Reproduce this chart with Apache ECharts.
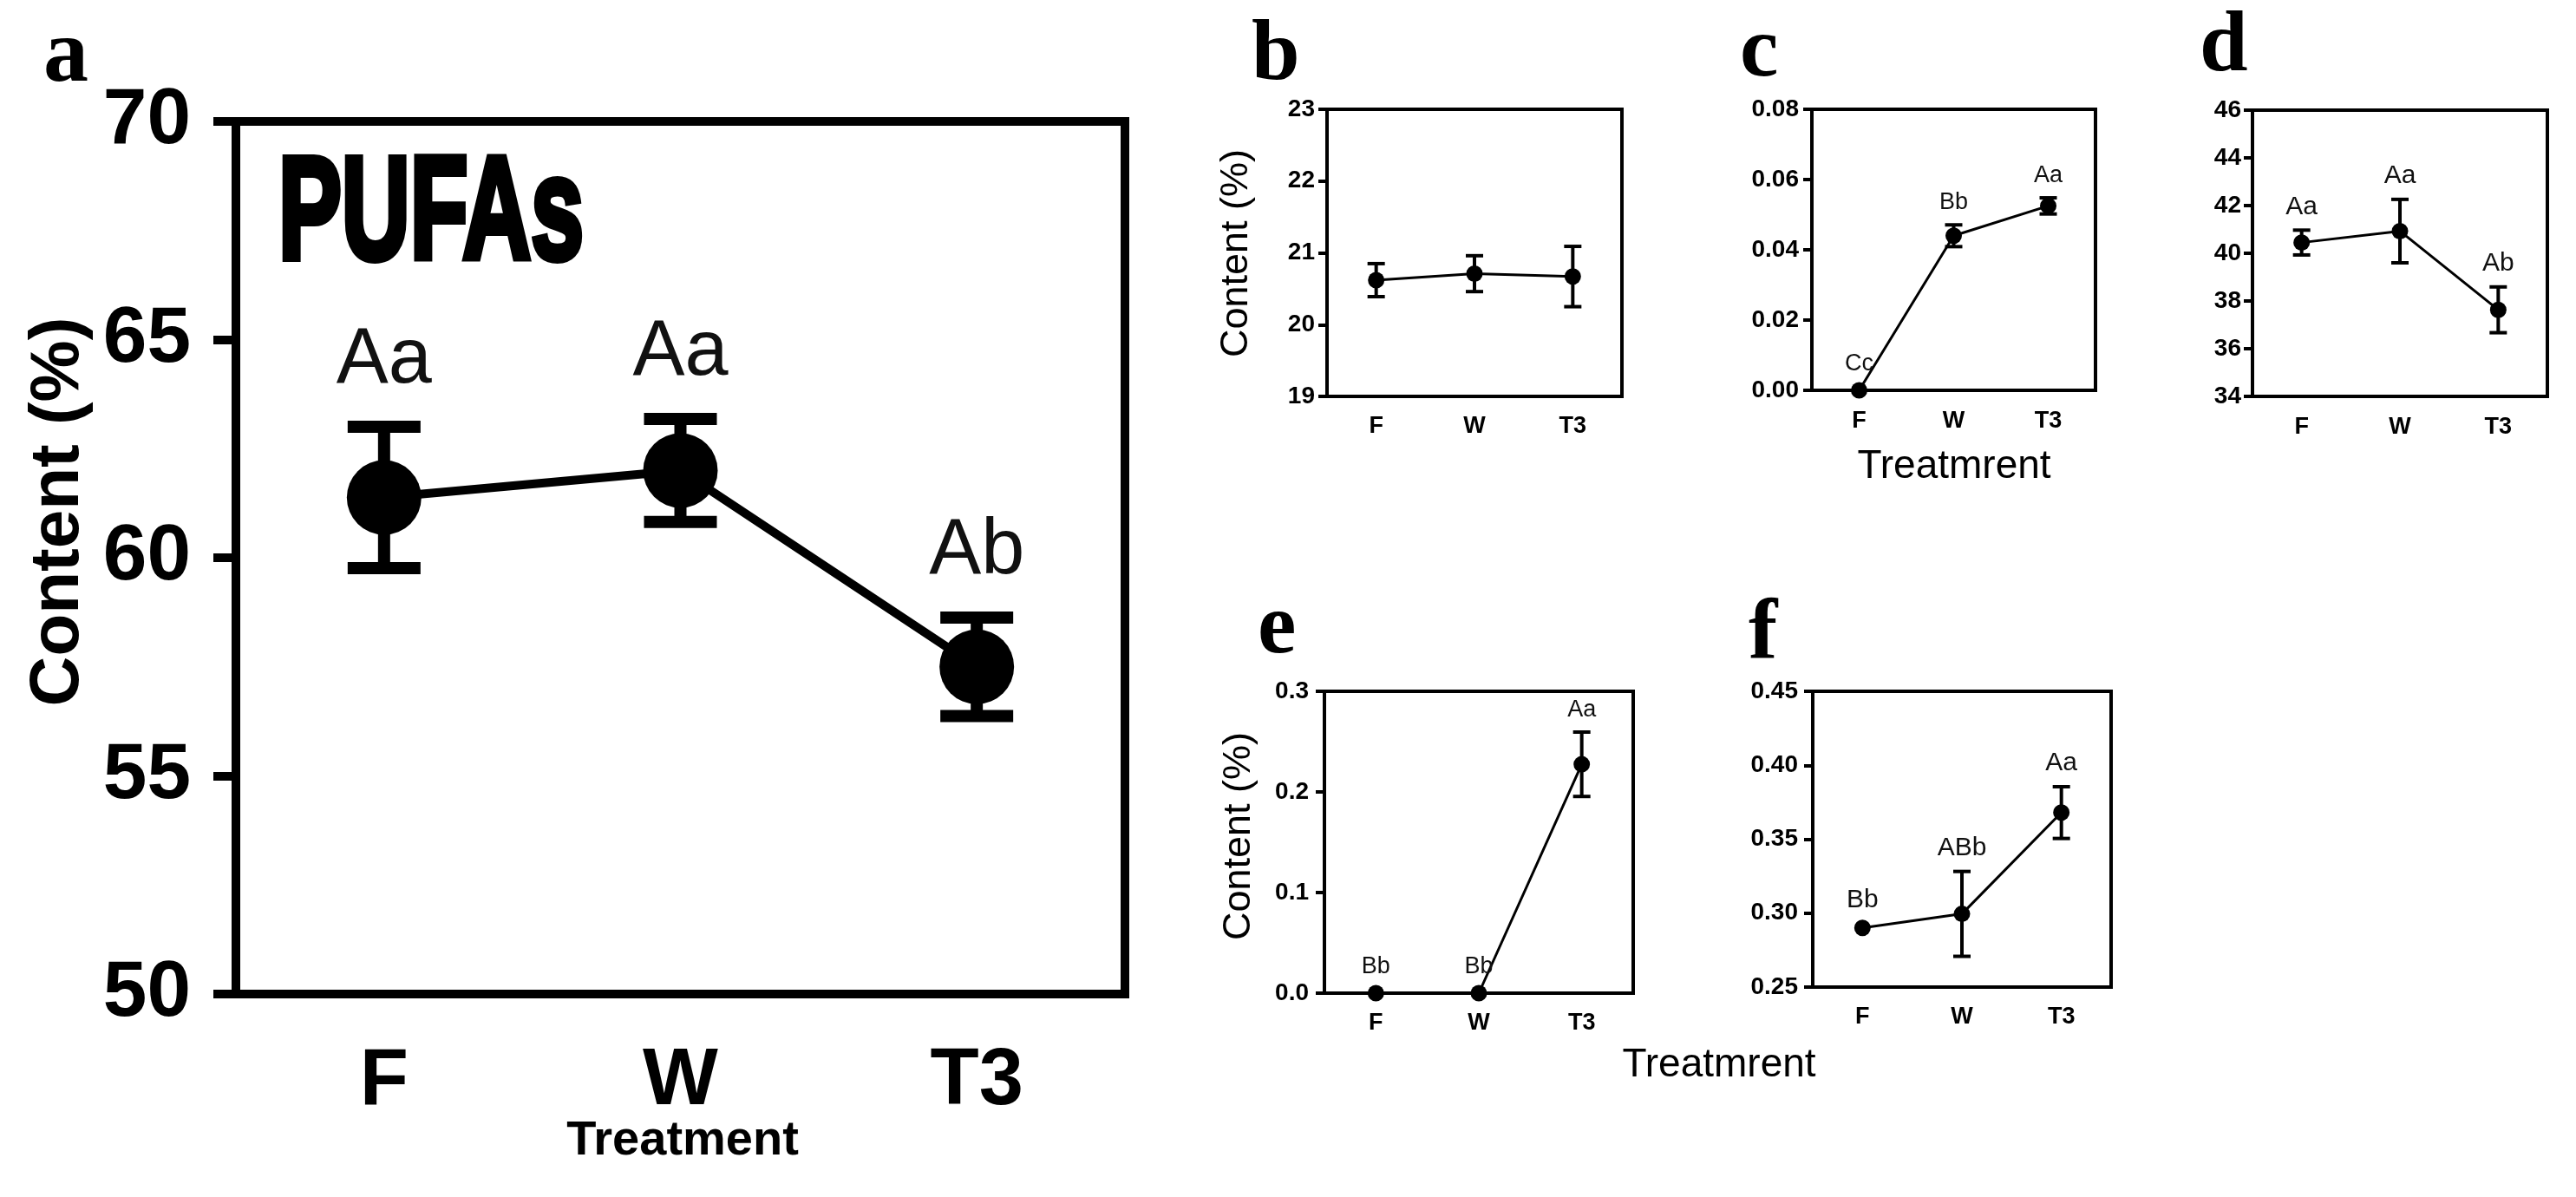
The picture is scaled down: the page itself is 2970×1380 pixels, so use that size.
<!DOCTYPE html>
<html><head><meta charset="utf-8">
<script src="https://cdn.jsdelivr.net/npm/echarts@6/dist/echarts.min.js"></script>
<style>html,body{margin:0;padding:0;background:#fff}#c{width:2970px;height:1380px}</style>
</head><body><div id="c"></div>
<script>
// ---------- data ----------
const categories = ['F', 'W', 'T3'];

// a: PUFAs
const aMean = [61.38, 62.00, 57.50];
const aErr = [1.62, 1.18, 1.13];
const aLetters = ['Aa', 'Aa', 'Ab'];
const aTicks = ['50', '55', '60', '65', '70'];

// b
const bMean = [20.62, 20.71, 20.67];
const bErr = [0.23, 0.25, 0.42];
const bLetters = ['', '', ''];
const bTicks = ['19', '20', '21', '22', '23'];

// c
const cMean = [0.0, 0.0440, 0.0525];
const cErr = [0.0, 0.0031, 0.0023];
const cLetters = ['Cc', 'Bb', 'Aa'];
const cTicks = ['0.00', '0.02', '0.04', '0.06', '0.08'];

// d
const dMean = [40.45, 40.93, 37.63];
const dErr = [0.52, 1.33, 0.96];
const dLetters = ['Aa', 'Aa', 'Ab'];
const dTicks = ['34', '36', '38', '40', '42', '44', '46'];

// e
const eMean = [0.0, 0.0, 0.2275];
const eErr = [0.0, 0.0, 0.032];
const eLetters = ['Bb', 'Bb', 'Aa'];
const eTicks = ['0.0', '0.1', '0.2', '0.3'];

// f
const fMean = [0.290, 0.2995, 0.368];
const fErr = [0.0, 0.0287, 0.0175];
const fLetters = ['Bb', 'ABb', 'Aa'];
const fTicks = ['0.25', '0.30', '0.35', '0.40', '0.45'];

// ---------- layout / style ----------
const SANS = '"Liberation Sans", Arial, sans-serif';
const SERIF = '"Liberation Serif", "Times New Roman", serif';

const panels = [
  {mean: aMean, err: aErr, letters: aLetters, ticks: aTicks,
   box: [272, 140, 1297, 1146], big: true, labFont: 90},
  {mean: bMean, err: bErr, letters: bLetters, ticks: bTicks,
   box: [1530, 126, 1870, 457], labFont: 28, yMargin: 14, xMargin: 21},
  {mean: cMean, err: cErr, letters: cLetters, ticks: cTicks,
   box: [2089, 126, 2416, 450], labFont: 27, yMargin: 15, xMargin: 22},
  {mean: dMean, err: dErr, letters: dLetters, ticks: dTicks,
   box: [2597, 127, 2937, 457], labFont: 30, yMargin: 13, xMargin: 22},
  {mean: eMean, err: eErr, letters: eLetters, ticks: eTicks,
   box: [1527, 797, 1883, 1145], labFont: 27, yMargin: 18, xMargin: 21},
  {mean: fMean, err: fErr, letters: fLetters, ticks: fTicks,
   box: [2090, 797, 2434, 1138], labFont: 30, yMargin: 17, xMargin: 21}
];

const grids = [], xAxes = [], yAxes = [], series = [];

panels.forEach((p, i) => {
  const big = !!p.big;
  const lw = big ? 10 : 4;
  const [L, T, R, B] = p.box;
  grids.push({left: L, top: T, width: R - L, height: B - T, show: true,
    borderColor: '#000', borderWidth: lw, backgroundColor: 'transparent'});
  const tickNums = p.ticks.map(Number);
  const step = Math.round((tickNums[1] - tickNums[0]) * 1e6) / 1e6;
  xAxes.push({
    gridIndex: i, type: 'category', data: categories, boundaryGap: true,
    axisLine: {lineStyle: {color: '#000', width: lw}},
    axisTick: {alignWithLabel: true, length: big ? 26 : 10, lineStyle: {color: '#000', width: lw}},
    axisLabel: {color: '#000', fontFamily: SANS, fontWeight: 'bold',
      fontSize: big ? 92 : 27, margin: big ? 56 : p.xMargin},
    splitLine: {show: false}
  });
  yAxes.push({
    gridIndex: i, type: 'value', min: tickNums[0], max: tickNums[tickNums.length - 1], interval: step,
    axisLine: {show: true, lineStyle: {color: '#000', width: lw}},
    axisTick: {show: true, length: big ? 26 : 10, lineStyle: {color: '#000', width: lw}},
    axisLabel: {color: '#000', fontFamily: SANS, fontWeight: 'bold',
      fontSize: big ? 91 : 28, margin: big ? 52 : p.yMargin,
      formatter: v => {
        let best = p.ticks[0], bd = Infinity;
        p.ticks.forEach(t => { const d = Math.abs(+t - v); if (d < bd) { bd = d; best = t; } });
        return best;
      }},
    splitLine: {show: false}
  });
  series.push({
    type: 'line', xAxisIndex: i, yAxisIndex: i, data: p.mean,
    symbol: 'circle', symbolSize: big ? 86 : 19, clip: false,
    itemStyle: {color: '#000'}, lineStyle: {color: '#000', width: big ? 10 : 3},
    z: 3, animation: false
  });
  const cap = big ? 42 : 10, elw = big ? 14 : 4;
  const fs = p.labFont;
  const gE = big ? 31 : 12, gP = big ? 74 : 17;
  series.push({
    type: 'custom', xAxisIndex: i, yAxisIndex: i, clip: false, z: 4, animation: false,
    data: p.mean.map((m, k) => [k, m, p.err[k]]),
    renderItem: (params, api) => {
      const k = api.value(0), m = api.value(1), e = api.value(2);
      const c = api.coord([k, m]), hi = api.coord([k, m + e]), lo = api.coord([k, m - e]);
      const ch = [];
      const st = {stroke: '#000', lineWidth: elw};
      if (e > 0) {
        ch.push({type: 'line', shape: {x1: c[0], y1: hi[1], x2: c[0], y2: lo[1]}, style: st});
        ch.push({type: 'line', shape: {x1: c[0] - cap, y1: hi[1], x2: c[0] + cap, y2: hi[1]}, style: st});
        ch.push({type: 'line', shape: {x1: c[0] - cap, y1: lo[1], x2: c[0] + cap, y2: lo[1]}, style: st});
      }
      const txt = p.letters[params.dataIndex];
      if (txt) {
        ch.push({type: 'text', style: {
          text: txt, x: c[0], y: Math.min(hi[1] - gE, c[1] - gP),
          align: 'center', verticalAlign: 'bottom', textAlign: 'center', textVerticalAlign: 'bottom',
          font: fs + 'px ' + SANS, fill: '#111'}});
      }
      return {type: 'group', children: ch};
    }
  });
});

function txt(x, y, text, font, align, vAlign, extra) {
  return Object.assign({type: 'text', x: x, y: y, z: 10,
    style: {text: text, x: 0, y: 0, font: font, fill: '#000',
      align: align, verticalAlign: vAlign, textAlign: align, textVerticalAlign: vAlign}}, extra || {});
}

const graphics = [
  // panel letters
  txt(50, 118, 'a', 'bold 104px ' + SERIF, 'left', 'bottom'),
  txt(1443, 115, 'b', 'bold 100px ' + SERIF, 'left', 'bottom'),
  txt(2006, 111, 'c', 'bold 100px ' + SERIF, 'left', 'bottom'),
  txt(2536, 105, 'd', 'bold 100px ' + SERIF, 'left', 'bottom'),
  txt(1450, 776, 'e', 'bold 100px ' + SERIF, 'left', 'bottom'),
  txt(2016, 783, 'f', 'bold 100px ' + SERIF, 'left', 'bottom'),
  // y titles
  txt(68, 590, 'Content (%)', 'bold 80px ' + SANS, 'center', 'middle', {rotation: Math.PI / 2}),
  txt(1426, 292, 'Content (%)', '45px ' + SANS, 'center', 'middle', {rotation: Math.PI / 2}),
  txt(1429, 964, 'Content (%)', '45px ' + SANS, 'center', 'middle', {rotation: Math.PI / 2}),
  // x titles
  txt(787, 1344, 'Treatment', 'bold 56px ' + SANS, 'center', 'bottom'),
  txt(2253, 561, 'Treatmrent', '46px ' + SANS, 'center', 'bottom'),
  txt(1982, 1251, 'Treatmrent', '46px ' + SANS, 'center', 'bottom'),
  // PUFAs heading
  {type: 'text', x: 321, y: 252, z: 10, scaleX: 0.65,
    style: {text: 'PUFAs', x: 0, y: 0, font: 'bold 168px ' + SANS, fill: '#000',
      stroke: '#000', lineWidth: 8,
      align: 'left', verticalAlign: 'middle', textAlign: 'left', textVerticalAlign: 'middle'}}
];

const chart = echarts.init(document.getElementById('c'), null, {renderer: 'canvas'});
chart.setOption({
  backgroundColor: '#fff', animation: false,
  grid: grids, xAxis: xAxes, yAxis: yAxes, series: series, graphic: graphics
});
</script></body></html>
